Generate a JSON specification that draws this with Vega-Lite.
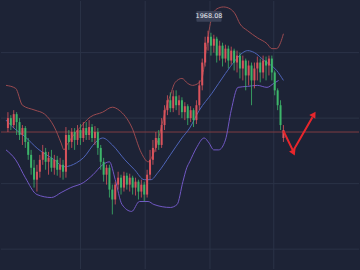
{
"$schema": "https://vega.github.io/schema/vega-lite/v6.json",
"width": 360, "height": 270,
"autosize": {"type": "fit", "contains": "padding"},
"padding": 0,
"background": "#1d2336",
"config": {"view": {"stroke": null}, "axis": {"disable": true}},
"datasets": {
"candles": [
{"x":2,"o":1870,"c":1880,"h":1886,"l":1866},{"x":5,"o":1880,"c":1873,"h":1883,"l":1868},{"x":8,"o":1873,"c":1884,"h":1888,"l":1870},{"x":11,"o":1884,"c":1876,"h":1886,"l":1863},{"x":14,"o":1876,"c":1863,"h":1880,"l":1858},{"x":17,"o":1863,"c":1870,"h":1873,"l":1853},{"x":20,"o":1870,"c":1856,"h":1872,"l":1850},{"x":23,"o":1856,"c":1843,"h":1860,"l":1838},{"x":26,"o":1843,"c":1830,"h":1848,"l":1823},{"x":29,"o":1830,"c":1818,"h":1838,"l":1810},{"x":32,"o":1818,"c":1826,"h":1833,"l":1806},{"x":35,"o":1826,"c":1838,"h":1843,"l":1820},{"x":38,"o":1838,"c":1846,"h":1853,"l":1833},{"x":41,"o":1846,"c":1836,"h":1850,"l":1828},{"x":44,"o":1836,"c":1840,"h":1846,"l":1823},{"x":47,"o":1840,"c":1830,"h":1848,"l":1826},{"x":50,"o":1830,"c":1838,"h":1843,"l":1823},{"x":53,"o":1838,"c":1828,"h":1842,"l":1822},{"x":56,"o":1828,"c":1833,"h":1840,"l":1820},{"x":59,"o":1833,"c":1826,"h":1838,"l":1818},{"x":62,"o":1826,"c":1863,"h":1871,"l":1820},{"x":65,"o":1863,"c":1856,"h":1868,"l":1848},{"x":68,"o":1856,"c":1866,"h":1870,"l":1850},{"x":71,"o":1866,"c":1858,"h":1870,"l":1848},{"x":74,"o":1858,"c":1868,"h":1873,"l":1853},{"x":77,"o":1868,"c":1860,"h":1874,"l":1853},{"x":80,"o":1860,"c":1870,"h":1876,"l":1856},{"x":83,"o":1870,"c":1863,"h":1876,"l":1858},{"x":86,"o":1863,"c":1871,"h":1878,"l":1858},{"x":89,"o":1871,"c":1860,"h":1874,"l":1856},{"x":92,"o":1860,"c":1866,"h":1872,"l":1853},{"x":95,"o":1866,"c":1850,"h":1870,"l":1843},{"x":98,"o":1850,"c":1836,"h":1853,"l":1828},{"x":101,"o":1836,"c":1823,"h":1840,"l":1816},{"x":104,"o":1823,"c":1830,"h":1833,"l":1813},{"x":107,"o":1830,"c":1808,"h":1833,"l":1800},{"x":110,"o":1808,"c":1798,"h":1813,"l":1783},{"x":113,"o":1798,"c":1813,"h":1816,"l":1793},{"x":116,"o":1813,"c":1820,"h":1826,"l":1808},{"x":119,"o":1820,"c":1810,"h":1823,"l":1803},{"x":122,"o":1810,"c":1822,"h":1826,"l":1806},{"x":125,"o":1822,"c":1813,"h":1825,"l":1808},{"x":128,"o":1813,"c":1820,"h":1824,"l":1806},{"x":131,"o":1820,"c":1810,"h":1822,"l":1803},{"x":134,"o":1810,"c":1816,"h":1820,"l":1802},{"x":137,"o":1816,"c":1806,"h":1818,"l":1798},{"x":140,"o":1806,"c":1813,"h":1818,"l":1800},{"x":143,"o":1813,"c":1803,"h":1816,"l":1796},{"x":146,"o":1803,"c":1823,"h":1828,"l":1800},{"x":149,"o":1823,"c":1838,"h":1848,"l":1818},{"x":152,"o":1838,"c":1850,"h":1858,"l":1833},{"x":155,"o":1850,"c":1860,"h":1866,"l":1846},{"x":158,"o":1860,"c":1853,"h":1868,"l":1848},{"x":161,"o":1853,"c":1873,"h":1880,"l":1850},{"x":164,"o":1873,"c":1888,"h":1893,"l":1868},{"x":167,"o":1888,"c":1898,"h":1903,"l":1883},{"x":170,"o":1898,"c":1890,"h":1906,"l":1886},{"x":173,"o":1890,"c":1902,"h":1908,"l":1886},{"x":176,"o":1902,"c":1893,"h":1908,"l":1888},{"x":179,"o":1893,"c":1898,"h":1903,"l":1883},{"x":182,"o":1898,"c":1886,"h":1901,"l":1880},{"x":185,"o":1886,"c":1892,"h":1896,"l":1878},{"x":188,"o":1892,"c":1880,"h":1894,"l":1873},{"x":191,"o":1880,"c":1888,"h":1892,"l":1876},{"x":194,"o":1888,"c":1878,"h":1890,"l":1871},{"x":197,"o":1878,"c":1893,"h":1898,"l":1874},{"x":200,"o":1893,"c":1913,"h":1918,"l":1888},{"x":203,"o":1913,"c":1936,"h":1940,"l":1908},{"x":206,"o":1936,"c":1956,"h":1962,"l":1932},{"x":209,"o":1956,"c":1962,"h":1968.08,"l":1948},{"x":212,"o":1962,"c":1953,"h":1966,"l":1943},{"x":215,"o":1953,"c":1960,"h":1964,"l":1946},{"x":218,"o":1960,"c":1943,"h":1962,"l":1936},{"x":221,"o":1943,"c":1953,"h":1958,"l":1938},{"x":224,"o":1953,"c":1940,"h":1956,"l":1932},{"x":227,"o":1940,"c":1950,"h":1954,"l":1936},{"x":230,"o":1950,"c":1938,"h":1953,"l":1930},{"x":233,"o":1938,"c":1948,"h":1952,"l":1934},{"x":236,"o":1948,"c":1936,"h":1950,"l":1928},{"x":239,"o":1936,"c":1943,"h":1948,"l":1926},{"x":242,"o":1943,"c":1930,"h":1946,"l":1920},{"x":245,"o":1930,"c":1938,"h":1943,"l":1918},{"x":248,"o":1938,"c":1923,"h":1940,"l":1908},{"x":251,"o":1923,"c":1933,"h":1938,"l":1913},{"x":254,"o":1933,"c":1918,"h":1936,"l":1893},{"x":257,"o":1918,"c":1930,"h":1936,"l":1910},{"x":260,"o":1930,"c":1936,"h":1942,"l":1918},{"x":263,"o":1936,"c":1926,"h":1940,"l":1916},{"x":266,"o":1926,"c":1938,"h":1943,"l":1920},{"x":269,"o":1938,"c":1933,"h":1942,"l":1918},{"x":272,"o":1933,"c":1940,"h":1943,"l":1923},{"x":275,"o":1940,"c":1926,"h":1943,"l":1918},{"x":278,"o":1926,"c":1908,"h":1928,"l":1903},{"x":281,"o":1908,"c":1893,"h":1910,"l":1888},{"x":284,"o":1893,"c":1873,"h":1898,"l":1868},{"x":287,"o":1860,"c":1868,"h":1873,"l":1856}
],
"upper": [
{"x":0,"v":1913},{"x":10,"v":1910},{"x":17,"v":1893},{"x":30,"v":1888},{"x":40,"v":1884},{"x":50,"v":1871},{"x":57,"v":1855},{"x":60,"v":1848},{"x":63,"v":1853},{"x":70,"v":1863},{"x":77,"v":1871},{"x":87,"v":1881},{"x":100,"v":1886},{"x":110,"v":1891},{"x":117,"v":1888},{"x":130,"v":1871},{"x":140,"v":1845},{"x":147,"v":1836},{"x":152,"v":1843},{"x":160,"v":1868},{"x":165,"v":1888},{"x":170,"v":1903},{"x":175,"v":1916},{"x":182,"v":1920},{"x":188,"v":1915},{"x":193,"v":1913},{"x":200,"v":1916},{"x":203,"v":1921},{"x":207,"v":1948},{"x":212,"v":1978},{"x":218,"v":1990},{"x":225,"v":1992},{"x":232,"v":1990},{"x":237,"v":1985},{"x":242,"v":1975},{"x":250,"v":1968},{"x":260,"v":1961},{"x":270,"v":1955},{"x":275,"v":1950},{"x":280,"v":1950},{"x":284,"v":1956},{"x":287,"v":1965}
],
"middle": [
{"x":0,"v":1878},{"x":7,"v":1871},{"x":20,"v":1861},{"x":33,"v":1849},{"x":50,"v":1838},{"x":60,"v":1831},{"x":73,"v":1835},{"x":80,"v":1840},{"x":93,"v":1856},{"x":100,"v":1860},{"x":110,"v":1853},{"x":123,"v":1838},{"x":133,"v":1828},{"x":143,"v":1818},{"x":150,"v":1818},{"x":157,"v":1825},{"x":170,"v":1843},{"x":182,"v":1860},{"x":190,"v":1870},{"x":200,"v":1888},{"x":213,"v":1905},{"x":227,"v":1925},{"x":237,"v":1938},{"x":245,"v":1946},{"x":250,"v":1948},{"x":257,"v":1946},{"x":267,"v":1938},{"x":280,"v":1928},{"x":287,"v":1918}
],
"lower": [
{"x":0,"v":1848},{"x":10,"v":1838},{"x":20,"v":1820},{"x":32,"v":1803},{"x":47,"v":1800},{"x":57,"v":1805},{"x":67,"v":1810},{"x":80,"v":1815},{"x":90,"v":1823},{"x":100,"v":1833},{"x":107,"v":1836},{"x":113,"v":1818},{"x":120,"v":1793},{"x":130,"v":1786},{"x":138,"v":1796},{"x":147,"v":1796},{"x":153,"v":1793},{"x":170,"v":1790},{"x":177,"v":1793},{"x":183,"v":1816},{"x":187,"v":1830},{"x":190,"v":1836},{"x":197,"v":1850},{"x":205,"v":1860},{"x":210,"v":1855},{"x":215,"v":1848},{"x":220,"v":1848},{"x":227,"v":1858},{"x":233,"v":1888},{"x":240,"v":1911},{"x":250,"v":1912},{"x":260,"v":1913},{"x":270,"v":1911},{"x":277,"v":1915},{"x":282,"v":1918}
],
"hgrid": [{"v":1946},{"v":1880},{"v":1814},{"v":1748}],
"vgrid": [{"x":77},{"x":144},{"x":211},{"x":277}],
"priceline": [{"v":1866}],
"label": [{"x":197,"x2":223,"v":1988,"v2":1977,"xm":210,"vm":1982.5,"t":"1968.08"}],
"arrow": [{"x":287,"v":1867},{"x":297,"v":1847},{"x":317,"v":1881}],
"heads": [{"x":297,"v":1846,"a":156},{"x":318,"v":1883,"a":32}]
},
"layer": [
{"data": {"name": "hgrid"}, "mark": {"type": "rule", "color": "#2b3347", "strokeWidth": 1},
 "encoding": {"y": {"field": "v", "type": "quantitative", "scale": {"domain": [1728, 1998], "nice": false, "zero": false}}}},
{"data": {"name": "vgrid"}, "mark": {"type": "rule", "color": "#2b3347", "strokeWidth": 1},
 "encoding": {"x": {"field": "x", "type": "quantitative", "scale": {"domain": [0, 360], "nice": false, "zero": false}}}},
{"data": {"name": "priceline"}, "mark": {"type": "rule", "color": "#7e3c42", "strokeWidth": 1},
 "encoding": {"y": {"field": "v", "type": "quantitative", "scale": {"domain": [1728, 1998], "nice": false, "zero": false}}}},
{"data": {"name": "upper"}, "mark": {"type": "line", "color": "#9a4a50", "strokeWidth": 1, "interpolate": "monotone"},
 "encoding": {"x": {"field": "x", "type": "quantitative", "scale": {"domain": [0, 360], "nice": false, "zero": false}}, "y": {"field": "v", "type": "quantitative", "scale": {"domain": [1728, 1998], "nice": false, "zero": false}}}},
{"data": {"name": "middle"}, "mark": {"type": "line", "color": "#4e64b8", "strokeWidth": 1, "interpolate": "monotone"},
 "encoding": {"x": {"field": "x", "type": "quantitative", "scale": {"domain": [0, 360], "nice": false, "zero": false}}, "y": {"field": "v", "type": "quantitative", "scale": {"domain": [1728, 1998], "nice": false, "zero": false}}}},
{"data": {"name": "lower"}, "mark": {"type": "line", "color": "#7158c4", "strokeWidth": 1, "interpolate": "monotone"},
 "encoding": {"x": {"field": "x", "type": "quantitative", "scale": {"domain": [0, 360], "nice": false, "zero": false}}, "y": {"field": "v", "type": "quantitative", "scale": {"domain": [1728, 1998], "nice": false, "zero": false}}}},
{"data": {"name": "candles"}, "mark": {"type": "rule", "strokeWidth": 1, "opacity": 0.8},
 "encoding": {"x": {"field": "x", "type": "quantitative", "scale": {"domain": [0, 360], "nice": false, "zero": false}}, "y": {"field": "l", "type": "quantitative", "scale": {"domain": [1728, 1998], "nice": false, "zero": false}}, "y2": {"field": "h"},
  "color": {"condition": {"test": "datum.c >= datum.o", "value": "#d9535c"}, "value": "#3db56a"}}},
{"data": {"name": "candles"}, "mark": {"type": "bar", "size": 2},
 "encoding": {"x": {"field": "x", "type": "quantitative", "scale": {"domain": [0, 360], "nice": false, "zero": false}}, "y": {"field": "o", "type": "quantitative", "scale": {"domain": [1728, 1998], "nice": false, "zero": false}}, "y2": {"field": "c"},
  "color": {"condition": {"test": "datum.c >= datum.o", "value": "#d9535c"}, "value": "#3db56a"}}},
{"data": {"name": "label"}, "mark": {"type": "rect", "color": "#3a4157", "cornerRadius": 1},
 "encoding": {"x": {"field": "x", "type": "quantitative", "scale": {"domain": [0, 360], "nice": false, "zero": false}}, "x2": {"field": "x2"}, "y": {"field": "v", "type": "quantitative", "scale": {"domain": [1728, 1998], "nice": false, "zero": false}}, "y2": {"field": "v2"}}},
{"data": {"name": "label"}, "mark": {"type": "text", "color": "#e6e8ee", "fontSize": 6.5, "font": "DejaVu Sans", "align": "center", "baseline": "middle"},
 "encoding": {"x": {"field": "xm", "type": "quantitative", "scale": {"domain": [0, 360], "nice": false, "zero": false}}, "y": {"field": "vm", "type": "quantitative", "scale": {"domain": [1728, 1998], "nice": false, "zero": false}}, "text": {"field": "t"}}},
{"data": {"name": "arrow"}, "mark": {"type": "line", "color": "#e8262c", "strokeWidth": 2},
 "encoding": {"x": {"field": "x", "type": "quantitative", "scale": {"domain": [0, 360], "nice": false, "zero": false}}, "y": {"field": "v", "type": "quantitative", "scale": {"domain": [1728, 1998], "nice": false, "zero": false}}, "order": {"field": "x"}}},
{"data": {"name": "heads"}, "mark": {"type": "point", "shape": "triangle", "filled": true, "color": "#e8262c", "opacity": 1, "size": 50},
 "encoding": {"x": {"field": "x", "type": "quantitative", "scale": {"domain": [0, 360], "nice": false, "zero": false}}, "y": {"field": "v", "type": "quantitative", "scale": {"domain": [1728, 1998], "nice": false, "zero": false}}, "angle": {"field": "a", "type": "quantitative", "scale": null}}}
]
}
